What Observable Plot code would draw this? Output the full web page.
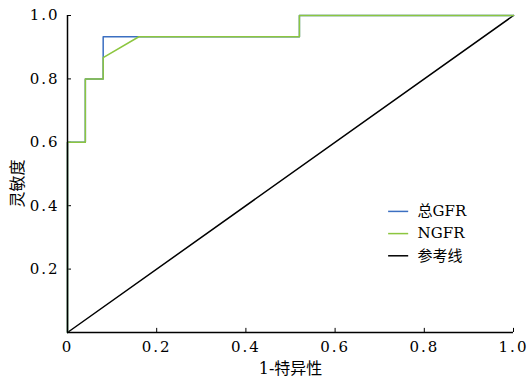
<!DOCTYPE html>
<html><head><meta charset="utf-8">
<script src="https://cdn.jsdelivr.net/npm/d3@7"></script>
<script src="https://cdn.jsdelivr.net/npm/@observablehq/plot@0.6"></script>
<style>body{margin:0;background:#fff}</style>
</head><body><div id="chart"></div>
<script>
const fprTotal = [0, 0, 0.04, 0.04, 0.08, 0.08, 0.16, 0.52, 0.52, 1];
const tprTotal = [0, 0.6, 0.6, 0.8, 0.8, 0.933, 0.933, 0.933, 1, 1];
const fprNGFR  = [0, 0, 0.04, 0.04, 0.08, 0.08, 0.16, 0.52, 0.52, 1];
const tprNGFR  = [0, 0.6, 0.6, 0.8, 0.8, 0.867, 0.933, 0.933, 1, 1];
const refX = [0, 1];
const refY = [0, 1];
const seriesNames = ["总GFR", "NGFR", "参考线"];
const seriesColors = ["#3b6fc1", "#8cc63f", "#000000"];
const xTicks = [0, 0.2, 0.4, 0.6, 0.8, 1.0];
const yTicks = [0.2, 0.4, 0.6, 0.8, 1.0];
const xTickLabels = ["0", "0.2", "0.4", "0.6", "0.8", "1.0"];
const yTickLabels = ["0.2", "0.4", "0.6", "0.8", "1.0"];
const xTitle = "1-特异性";
const yTitle = "灵敏度";

const toPts = (xs, ys) => xs.map((x, i) => ({x, y: ys[i]}));
const legend = seriesNames.map((name, i) => ({name, color: seriesColors[i], row: i}));
const legY = r => 0.382 - r * 0.07;
const font = "DejaVu Serif, Liberation Serif, Noto Sans CJK SC, serif";

const chart = Plot.plot({
  width: 528, height: 379,
  marginLeft: 67, marginRight: 15, marginTop: 15, marginBottom: 47,
  x: {domain: [0, 1], axis: null}, y: {domain: [0, 1], axis: null},
  style: {fontFamily: font, fontSize: "15px", color: "#000", background: "#fff"},
  marks: [
    Plot.text(xTicks, {x: d => d, y: 0, dy: 15, text: (d, i) => xTickLabels[i], fontSize: 15, fontFamily: font, fill: "#000"}),
    Plot.text(yTicks, {y: d => d, x: 0, dx: -8, textAnchor: "end", text: (d, i) => yTickLabels[i], fontSize: 15, fontFamily: font, fill: "#000"}),
    Plot.ruleX(xTicks, {y1: 0, y2: 0.013, stroke: "#000", strokeWidth: 1}),
    Plot.ruleY(yTicks, {x1: 0, x2: 0.009, stroke: "#000", strokeWidth: 1}),
    Plot.line(toPts(refX, refY), {x: "x", y: "y", stroke: seriesColors[2], strokeWidth: 1.5}),
    Plot.line(toPts(fprTotal, tprTotal), {x: "x", y: "y", stroke: seriesColors[0], strokeWidth: 1.5}),
    Plot.line(toPts(fprNGFR, tprNGFR), {x: "x", y: "y", stroke: seriesColors[1], strokeWidth: 1.5}),
    Plot.ruleX([0], {stroke: "#000", strokeWidth: 1.5}),
    Plot.ruleY([0], {stroke: "#000", strokeWidth: 1.5}),
    Plot.ruleY(legend, {y: d => legY(d.row), x1: 0.72, x2: 0.765, stroke: "color", strokeWidth: 1.5}),
    Plot.text(legend, {y: d => legY(d.row), x: 0.785, text: "name", textAnchor: "start", fontSize: 15, fontFamily: font, fill: "#000"}),
    Plot.text([xTitle], {x: 0.5, y: 0, dy: 36, fontSize: 16, fontFamily: font, fill: "#000"}),
    Plot.text([yTitle], {x: 0, y: 0.47, dx: -50, rotate: -90, fontSize: 16, fontFamily: font, fill: "#000"})
  ]
});
const tickSet = new Set([...xTickLabels, ...yTickLabels]);
chart.querySelectorAll("text").forEach(t => {
  if (tickSet.has(t.textContent)) {
    t.setAttribute("font-family", "DejaVu Serif");
    t.style.fontFamily = "'DejaVu Serif', serif";
    t.setAttribute("letter-spacing", "2");
    t.style.letterSpacing = "2px";
  }
});
document.getElementById("chart").append(chart);
</script></body></html>
